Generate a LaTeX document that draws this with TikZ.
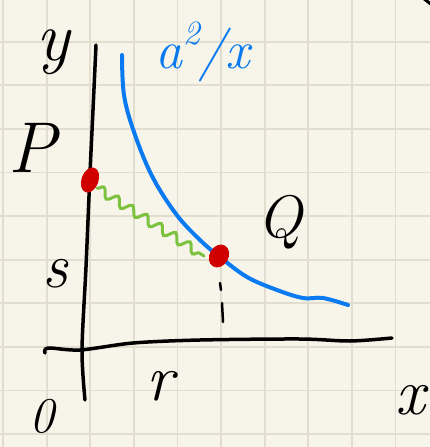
\documentclass[tikz,border=0pt]{standalone}
\usetikzlibrary{shapes.geometric,decorations.pathmorphing}
\definecolor{paper}{HTML}{F7F5EA}
\definecolor{gridc}{HTML}{E1DED0}
\definecolor{penblue}{HTML}{0A7AF0}
\definecolor{pengreen}{HTML}{7DC23E}
\definecolor{penred}{HTML}{D00000}
\begin{document}
\begin{tikzpicture}[x=1pt,y=-1pt,
  gridline/.style={gridc, line width=1.8pt},
  axis/.style={black, line width=3.5pt, line cap=round, line join=round},
  curve/.style={penblue, line width=4pt, line cap=round, line join=round},
  wave/.style={pengreen, line width=3pt, line cap=round, decorate, decoration={snake, segment length=17pt, amplitude=4.5pt}},
  dot/.style={ellipse, fill=penred, inner sep=0pt},
  lab/.style={black, inner sep=0pt, font=\itshape}]
\fill[paper] (0,0) rectangle (430,447);
\useasboundingbox (0,0) rectangle (430,447);
\foreach \i in {0,...,9} \draw[gridline] ({3.1+43.6*\i},0) -- ({3.1+43.6*\i},447);
\foreach \i in {1,...,10} \draw[gridline] (0,{-1.9+43.6*\i}) -- (430,{-1.9+43.6*\i});
% axes
\draw[axis] plot[smooth] coordinates {(96,45) (93,110) (90,173) (86,267) (82,350) (85,400)};
\draw[axis] plot[smooth] coordinates {(45,353) (48,348) (80,350) (133,343) (200,340) (300,339) (350,341) (392,338)};
% hyperbola
\draw[curve] plot[smooth, tension=0.6] coordinates {(122,55) (124,95) (134,132) (152,176) (176,214) (200,240) (220,257) (247,277) (277,290) (303,298) (323,298) (348,305)};
% points
\node[dot, minimum width=17pt, minimum height=26pt, rotate=-20] (P) at (90,180) {};
\node[dot, minimum width=19pt, minimum height=24pt, rotate=-30] (Q) at (219,256) {};
\coordinate (g1) at (97,188);
\coordinate (g2) at (204,256);
\draw[wave] (g1) -- (g2);
% tick below Q
\draw[black, line width=2.5pt, line cap=round] (220,283) -- (221,290);
\draw[black, line width=2.5pt, line cap=round] (222,303) -- (223,322);
% corner mark
\draw[black, line width=3pt] (423,-2) -- (432,5);
% labels
\node[lab, font=\itshape\fontsize{70}{70}\selectfont] (ly) at (53,52) {y};
\node[lab, font=\itshape\fontsize{72}{72}\selectfont] (lP) at (32,148) {P};
\node[lab, font=\itshape\fontsize{64}{64}\selectfont] (ls) at (55,274) {s};
\node[lab, font=\itshape\fontsize{60}{60}\selectfont] (lQ) at (280,222) {Q};
\node[lab, font=\itshape\fontsize{66}{66}\selectfont] (lr) at (160,386) {r};
\node[lab, font=\itshape\fontsize{66}{66}\selectfont] (lx) at (410,400) {x};
\node[lab, font=\itshape\fontsize{50}{50}\selectfont] (l0) at (42,416) {0};
\node[penblue, inner sep=0pt, font=\itshape\fontsize{54}{54}\selectfont] (lab2) at (203,52) {a\raisebox{0.45em}{\fontsize{34}{34}\selectfont 2}\kern-1pt/x};
\end{tikzpicture}
\end{document}
